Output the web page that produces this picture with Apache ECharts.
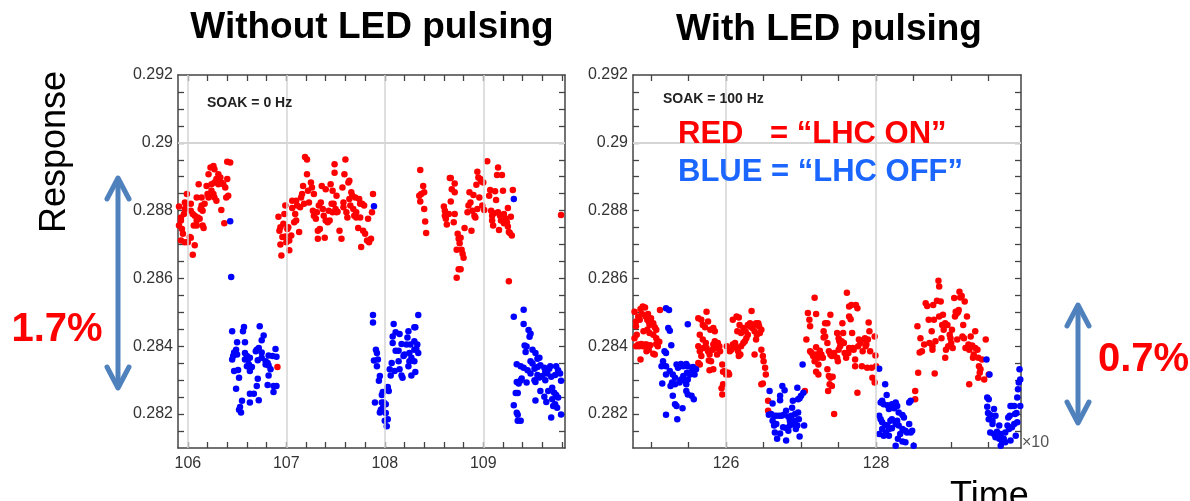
<!DOCTYPE html>
<html>
<head>
<meta charset="utf-8">
<script src="https://cdn.jsdelivr.net/npm/echarts@6/dist/echarts.min.js"></script>
<style>
html,body{margin:0;padding:0;background:#fff}
#main{width:1190px;height:501px}
</style>
</head>
<body>
<div id="main"></div>
<script>
// [time (x10^?), response]
var noPulseRed = [
[105.91,0.28812],[105.93,0.28780],[105.93,0.28771],[105.91,0.28756],[105.94,0.28746],[105.96,0.28790],[105.97,0.28824],[105.98,0.28820],[105.99,0.28849],[105.97,0.28805],[105.95,0.28732],[105.93,0.28712],[105.97,0.28707],[106.00,0.28707],[106.02,0.28722],[106.03,0.28720],[106.07,0.28698],[106.05,0.28670],[106.03,0.28800],[106.03,0.28820],[106.05,0.28790],[106.07,0.28785],[106.09,0.28771],[106.10,0.28780],[106.06,0.28756],[106.09,0.28756],[106.12,0.28776],[106.15,0.28756],[106.16,0.28749],[106.13,0.28805],[106.14,0.28815],[106.15,0.28800],[106.09,0.28839],[106.14,0.28839],[106.11,0.28878],[106.19,0.28873],[106.17,0.28820],[106.21,0.28839],[106.22,0.28844],[106.20,0.28849],[106.24,0.28859],[106.26,0.28849],[106.27,0.28839],[106.29,0.28829],[106.24,0.28878],[106.27,0.28883],[106.21,0.28907],[106.23,0.28927],[106.26,0.28932],[106.27,0.28922],[106.31,0.28907],[106.33,0.28898],[106.29,0.28893],[106.34,0.28883],[106.31,0.28878],[106.36,0.28878],[106.38,0.28868],[106.40,0.28893],[106.39,0.28839],[106.41,0.28844],[106.34,0.28802],[106.37,0.28763],[106.40,0.28944],[106.43,0.28942],[106.91,0.28339],
[106.92,0.28782],[106.93,0.28741],[106.94,0.28751],[106.94,0.28700],[106.95,0.28668],[106.96,0.28722],[106.97,0.28761],[106.98,0.28790],[106.99,0.28815],[106.99,0.28724],[107.00,0.28707],[107.01,0.28746],[107.02,0.28751],[107.03,0.28683],[107.03,0.28712],[107.05,0.28727],[107.06,0.28829],[107.06,0.28808],[107.08,0.28766],[107.09,0.28790],[107.10,0.28771],[107.10,0.28829],[107.11,0.28815],[107.13,0.28737],[107.14,0.28810],[107.15,0.28839],[107.16,0.28849],[107.17,0.28873],[107.18,0.28820],[107.19,0.28958],[107.21,0.28951],[107.21,0.28907],[107.22,0.28859],[107.23,0.28824],[107.25,0.28883],[107.26,0.28868],[107.27,0.28800],[107.28,0.28849],[107.28,0.28785],[107.30,0.28776],[107.31,0.28795],[107.32,0.28741],[107.32,0.28717],[107.33,0.28815],[107.34,0.28746],[107.35,0.28824],[107.36,0.28873],[107.37,0.28805],[107.38,0.28785],[107.39,0.28720],[107.40,0.28771],[107.40,0.28863],[107.42,0.28766],[107.43,0.28800],[107.44,0.28771],[107.45,0.28878],[107.46,0.28820],[107.47,0.28795],[107.47,0.28859],[107.48,0.28820],[107.49,0.28937],[107.49,0.28912],[107.50,0.28805],[107.51,0.28795],[107.51,0.28844],[107.52,0.28797],[107.54,0.28741],[107.56,0.28717],[107.57,0.28868],[107.58,0.28824],[107.58,0.28810],[107.59,0.28907],[107.60,0.28951],[107.61,0.28795],[107.62,0.28780],[107.63,0.28883],[107.64,0.28888],[107.64,0.28834],[107.65,0.28815],[107.66,0.28854],[107.67,0.28844],[107.68,0.28805],[107.69,0.28785],[107.70,0.28839],[107.71,0.28795],[107.71,0.28780],[107.73,0.28749],[107.74,0.28834],[107.75,0.28820],[107.75,0.28780],[107.76,0.28693],[107.77,0.28820],[107.78,0.28741],[107.79,0.28815],[107.80,0.28732],[107.82,0.28712],[107.83,0.28776],[107.84,0.28707],[107.86,0.28717],[107.87,0.28795],[107.88,0.28849],
[108.36,0.28920],[108.39,0.28873],[108.40,0.28854],[108.37,0.28849],[108.35,0.28844],[108.36,0.28827],[108.40,0.28805],[108.41,0.28768],[108.42,0.28734],[108.60,0.28812],[108.61,0.28800],[108.61,0.28785],[108.62,0.28776],[108.63,0.28759],[108.65,0.28790],[108.66,0.28896],[108.67,0.28896],[108.68,0.28863],[108.67,0.28827],[108.70,0.28766],[108.71,0.28880],[108.71,0.28854],[108.71,0.28790],[108.74,0.28732],[108.75,0.28717],[108.76,0.28704],[108.77,0.28720],[108.73,0.28685],[108.78,0.28685],[108.79,0.28673],[108.80,0.28661],[108.81,0.28749],[108.75,0.28627],[108.77,0.28627],[108.73,0.28602],[108.84,0.28795],[108.85,0.28815],[108.86,0.28854],[108.87,0.28824],[108.88,0.28741],[108.89,0.28800],[108.90,0.28846],[108.91,0.28785],[108.92,0.28780],[108.93,0.28876],[108.94,0.28915],[108.94,0.28805],[108.95,0.28898],[108.96,0.28839],[108.97,0.28893],[108.98,0.28886],[108.99,0.28815],[109.00,0.28883],[109.01,0.28802],[109.04,0.28946],[109.06,0.28844],[109.07,0.28861],[109.08,0.28800],[109.09,0.28785],[109.09,0.28771],[109.10,0.28756],[109.11,0.28792],[109.12,0.28857],[109.13,0.28831],[109.14,0.28905],[109.15,0.28927],[109.15,0.28795],[109.16,0.28743],[109.17,0.28785],[109.18,0.28771],[109.19,0.28905],[109.20,0.28859],[109.21,0.28790],[109.21,0.28763],[109.23,0.28776],[109.24,0.28766],[109.25,0.28808],[109.25,0.28753],[109.26,0.28737],[109.27,0.28734],[109.28,0.28782],[109.29,0.28727],[109.30,0.28861],[109.26,0.28592],[109.79,0.28787]
];
var noPulseBlue = [
[106.45,0.28444],[106.57,0.28457],[106.56,0.28444],[106.73,0.28459],[106.77,0.28432],[106.75,0.28418],[106.50,0.28412],[106.58,0.28412],[106.72,0.28395],[106.70,0.28390],[106.69,0.28385],[106.75,0.28382],[106.49,0.28390],[106.47,0.28382],[106.46,0.28371],[106.45,0.28361],[106.50,0.28376],[106.58,0.28380],[106.60,0.28371],[106.61,0.28361],[106.63,0.28366],[106.58,0.28361],[106.62,0.28346],[106.60,0.28341],[106.65,0.28339],[106.63,0.28327],[106.71,0.28359],[106.79,0.28356],[106.81,0.28351],[106.82,0.28373],[106.86,0.28371],[106.89,0.28392],[106.90,0.28369],[106.82,0.28343],[106.84,0.28332],[106.82,0.28314],[106.47,0.28327],[106.51,0.28330],[106.52,0.28307],[106.71,0.28304],[106.70,0.28283],[106.81,0.28286],[106.87,0.28283],[106.90,0.28283],[106.87,0.28265],[106.49,0.28275],[106.63,0.28260],[106.67,0.28260],[106.63,0.28234],[106.72,0.28241],[106.55,0.28239],[106.53,0.28221],[106.52,0.28213],[106.54,0.28205],[106.79,0.28346],[106.75,0.28366],
[106.43,0.28769],[106.44,0.28604],[107.89,0.28813],[109.31,0.28834],
[107.88,0.28492],[107.88,0.28470],[107.91,0.28390],[107.92,0.28380],[107.89,0.28358],[107.93,0.28361],[107.92,0.28341],[107.95,0.28312],[107.94,0.28298],[107.90,0.28234],[107.98,0.28265],[107.97,0.28256],[108.03,0.28275],[108.04,0.28268],[108.03,0.28280],[107.99,0.28234],[108.01,0.28229],[107.98,0.28219],[107.96,0.28213],[107.95,0.28205],[108.01,0.28203],[108.03,0.28185],[108.00,0.28180],[108.02,0.28164],[107.97,0.28234],[108.09,0.28466],[108.11,0.28441],[108.15,0.28436],[108.24,0.28444],[108.23,0.28426],[108.30,0.28456],[108.31,0.28456],[108.34,0.28492],[108.08,0.28429],[108.08,0.28410],[108.17,0.28407],[108.22,0.28405],[108.26,0.28405],[108.30,0.28415],[108.33,0.28405],[108.32,0.28392],[108.30,0.28390],[108.34,0.28380],[108.25,0.28380],[108.20,0.28376],[108.14,0.28387],[108.11,0.28387],[108.19,0.28371],[108.27,0.28366],[108.30,0.28356],[108.14,0.28356],[108.07,0.28351],[108.05,0.28332],[108.10,0.28327],[108.15,0.28332],[108.17,0.28314],[108.18,0.28307],[108.27,0.28314],[108.31,0.28324],[108.06,0.28314],[108.24,0.28341],[108.25,0.28356],
[109.31,0.28487],[109.41,0.28508],[109.41,0.28466],[109.46,0.28448],[109.47,0.28428],[109.48,0.28437],[109.42,0.28402],[109.44,0.28399],[109.43,0.28383],[109.50,0.28390],[109.53,0.28380],[109.57,0.28366],[109.55,0.28363],[109.48,0.28356],[109.50,0.28349],[109.34,0.28347],[109.38,0.28341],[109.41,0.28337],[109.45,0.28329],[109.48,0.28320],[109.52,0.28334],[109.55,0.28339],[109.58,0.28344],[109.62,0.28337],[109.63,0.28325],[109.67,0.28334],[109.68,0.28341],[109.74,0.28341],[109.76,0.28329],[109.78,0.28320],[109.73,0.28315],[109.69,0.28310],[109.65,0.28320],[109.60,0.28312],[109.57,0.28308],[109.52,0.28300],[109.53,0.28295],[109.44,0.28293],[109.38,0.28299],[109.34,0.28295],[109.36,0.28290],[109.39,0.28305],[109.33,0.28262],[109.35,0.28262],[109.58,0.28268],[109.62,0.28251],[109.66,0.28268],[109.70,0.28278],[109.72,0.28263],[109.74,0.28256],[109.76,0.28249],[109.70,0.28244],[109.64,0.28236],[109.53,0.28240],[109.73,0.28229],[109.71,0.28224],[109.75,0.28219],[109.79,0.28199],[109.69,0.28190],[109.31,0.28226],[109.34,0.28204],[109.35,0.28198],[109.35,0.28180],[109.38,0.28180],[109.63,0.28300],[109.55,0.28315],[109.79,0.28298]
];
var pulseRed = [
[124.78,0.28502],[124.80,0.28473],[124.80,0.28459],[124.78,0.28424],[124.81,0.28434],[124.83,0.28488],[124.85,0.28478],[124.86,0.28510],[124.88,0.28495],[124.89,0.28517],[124.92,0.28514],[124.93,0.28488],[124.95,0.28478],[124.96,0.28495],[124.97,0.28473],[124.98,0.28463],[125.00,0.28483],[125.03,0.28468],[125.05,0.28456],[125.07,0.28449],[124.98,0.28439],[124.87,0.28407],[124.84,0.28400],[124.89,0.28400],[124.92,0.28405],[124.94,0.28405],[124.96,0.28400],[124.97,0.28390],[124.94,0.28385],[124.99,0.28403],[125.03,0.28378],[125.05,0.28376],[125.07,0.28407],[125.09,0.28400],[125.11,0.28413],[125.12,0.28507],[124.86,0.28361],[124.83,0.28405],[124.80,0.28400],[124.95,0.28449],[124.90,0.28444],[125.03,0.28434],[125.07,0.28424],
[125.63,0.28483],[125.67,0.28478],[125.69,0.28463],[125.72,0.28456],[125.74,0.28502],[125.76,0.28473],[125.79,0.28449],[125.83,0.28454],[125.85,0.28444],[125.65,0.28434],[125.69,0.28420],[125.73,0.28410],[125.63,0.28400],[125.65,0.28385],[125.67,0.28371],[125.63,0.28351],[125.65,0.28346],[125.70,0.28395],[125.74,0.28395],[125.76,0.28385],[125.78,0.28376],[125.77,0.28358],[125.80,0.28356],[125.82,0.28390],[125.83,0.28405],[125.85,0.28415],[125.87,0.28395],[125.88,0.28376],[125.89,0.28410],[125.91,0.28400],[125.92,0.28385],[125.83,0.28332],[125.78,0.28329],[125.95,0.28346],[125.96,0.28325],[125.98,0.28327],[126.00,0.28317],[126.03,0.28322],[126.04,0.28317],[126.01,0.28400],[126.05,0.28385],[125.96,0.28288],[125.94,0.28276],[125.95,0.28258],[126.07,0.28390],[126.09,0.28405],[126.12,0.28410],[126.14,0.28395],[126.16,0.28385],[126.17,0.28371],[126.19,0.28376],[126.20,0.28400],[126.23,0.28410],[126.25,0.28415],[126.27,0.28424],[126.29,0.28434],[126.09,0.28478],[126.14,0.28488],[126.17,0.28485],[126.18,0.28463],[126.20,0.28439],[126.23,0.28454],[126.15,0.28444],[126.26,0.28444],[126.29,0.28463],[126.32,0.28459],[126.34,0.28504],[126.32,0.28468],[126.35,0.28454],[126.37,0.28463],[126.38,0.28444],[126.40,0.28468],[126.43,0.28468],[126.44,0.28459],[126.41,0.28434],[126.45,0.28439],[126.40,0.28420],[126.47,0.28449],[126.38,0.28376],[126.47,0.28390],[126.49,0.28371],[126.50,0.28356],[126.52,0.28337],[126.53,0.28317],[126.47,0.28288],[126.49,0.28290],[126.56,0.28239],[126.56,0.28210],[127.05,0.28268],
[127.09,0.28498],[127.20,0.28495],[127.11,0.28478],[127.12,0.28459],[127.32,0.28468],[127.30,0.28444],[127.30,0.28426],[127.07,0.28420],[127.20,0.28397],[127.12,0.28385],[127.14,0.28380],[127.16,0.28371],[127.20,0.28376],[127.23,0.28366],[127.25,0.28387],[127.27,0.28376],[127.29,0.28366],[127.18,0.28356],[127.23,0.28346],[127.20,0.28325],[127.23,0.28317],[127.18,0.28543],
[127.35,0.28468],[127.39,0.28493],[127.32,0.28429],[127.35,0.28410],[127.37,0.28385],[127.39,0.28376],[127.41,0.28371],[127.44,0.28380],[127.35,0.28332],[127.37,0.28312],[127.39,0.28307],[127.42,0.28310],[127.38,0.28288],[127.41,0.28283],[127.36,0.28268],[127.44,0.28200],[127.48,0.28439],[127.50,0.28424],[127.51,0.28415],[127.52,0.28400],[127.50,0.28390],[127.48,0.28366],[127.49,0.28356],[127.55,0.28468],[127.56,0.28439],[127.57,0.28410],[127.58,0.28380],[127.60,0.28366],[127.54,0.28415],[127.61,0.28558],[127.64,0.28517],[127.64,0.28488],[127.66,0.28480],[127.67,0.28522],[127.63,0.28380],[127.64,0.28395],[127.68,0.28439],[127.69,0.28395],[127.70,0.28390],[127.72,0.28341],[127.72,0.28361],[127.73,0.28522],[127.75,0.28512],[127.76,0.28400],[127.77,0.28420],[127.79,0.28410],[127.81,0.28341],[127.82,0.28385],[127.84,0.28420],[127.85,0.28424],[127.86,0.28400],[127.87,0.28405],[127.88,0.28337],[127.89,0.28420],[127.90,0.28470],[127.91,0.28444],[127.92,0.28385],[127.94,0.28337],[127.95,0.28307],[127.98,0.28293],[127.98,0.28429],[127.99,0.28373],[128.00,0.28341],[127.75,0.28263],
[128.55,0.28459],[128.52,0.28268],[128.52,0.28244],[128.56,0.28322],[128.58,0.28382],[128.61,0.28385],[128.59,0.28424],[128.64,0.28405],[128.66,0.28527],[128.68,0.28519],[128.70,0.28478],[128.71,0.28410],[128.74,0.28444],[128.75,0.28400],[128.76,0.28522],[128.77,0.28478],[128.75,0.28390],[128.79,0.28415],[128.78,0.28320],[128.81,0.28534],[128.83,0.28593],[128.84,0.28576],[128.84,0.28488],[128.86,0.28532],[128.87,0.28424],[128.88,0.28463],[128.89,0.28493],[128.90,0.28449],[128.92,0.28366],[128.92,0.28468],[128.93,0.28390],[128.95,0.28463],[128.96,0.28400],[128.98,0.28434],[128.99,0.28424],[129.00,0.28410],[129.01,0.28449],[129.02,0.28395],[129.04,0.28542],[129.05,0.28488],[129.06,0.28502],[129.07,0.28496],[129.08,0.28420],[129.09,0.28500],[129.10,0.28507],[129.11,0.28561],[129.12,0.28544],[129.14,0.28548],[129.15,0.28429],[129.16,0.28463],[129.17,0.28424],[129.18,0.28532],[129.19,0.28395],[129.21,0.28488],[129.23,0.28405],[129.24,0.28390],[129.24,0.28288],[129.26,0.28429],[129.28,0.28402],[129.29,0.28366],[129.30,0.28376],[129.32,0.28444],[129.32,0.28395],[129.35,0.28390],[129.36,0.28366],[129.37,0.28341],[129.38,0.28322],[129.39,0.28332],[129.36,0.28307],[129.41,0.28361],[129.44,0.28302],[129.46,0.28420],[129.50,0.28317]
];
var pulseBlue = [
[125.20,0.28512],[125.24,0.28507],[125.23,0.28454],[125.25,0.28446],[125.49,0.28465],[125.27,0.28403],[125.18,0.28385],[125.20,0.28380],[125.16,0.28356],[125.14,0.28341],[125.20,0.28341],[125.20,0.28317],[125.15,0.28290],[125.25,0.28327],[125.29,0.28317],[125.32,0.28307],[125.28,0.28293],[125.26,0.28283],[125.32,0.28288],[125.34,0.28346],[125.36,0.28337],[125.38,0.28341],[125.40,0.28348],[125.43,0.28341],[125.47,0.28348],[125.49,0.28341],[125.48,0.28322],[125.43,0.28312],[125.40,0.28302],[125.38,0.28293],[125.45,0.28298],[125.47,0.28288],[125.49,0.28302],[125.52,0.28317],[125.54,0.28325],[125.56,0.28339],[125.60,0.28332],[125.58,0.28317],[125.47,0.28268],[125.49,0.28258],[125.54,0.28254],[125.57,0.28244],[125.29,0.28254],[125.32,0.28229],[125.34,0.28224],[125.42,0.28217],[125.20,0.28198],[125.35,0.28185],
[126.58,0.28268],[126.62,0.28231],[126.57,0.28198],[126.60,0.28200],[126.64,0.28195],[126.67,0.28195],[126.71,0.28195],[126.74,0.28195],[126.77,0.28198],[126.75,0.28283],[126.78,0.28270],[126.72,0.28254],[126.72,0.28241],[126.80,0.28210],[126.83,0.28192],[126.85,0.28180],[126.87,0.28195],[126.88,0.28219],[126.89,0.28239],[126.95,0.28278],[126.96,0.28244],[126.98,0.28247],[127.00,0.28254],[127.03,0.28263],[127.02,0.28346],[126.62,0.28180],[126.64,0.28166],[126.67,0.28171],[126.65,0.28146],[126.68,0.28127],[126.72,0.28143],[126.76,0.28161],[126.80,0.28159],[126.80,0.28122],[126.83,0.28151],[126.85,0.28166],[126.89,0.28171],[126.92,0.28180],[126.93,0.28156],[126.95,0.28166],[126.97,0.28185],[126.98,0.28134],[127.04,0.28166],[126.96,0.28205],[126.92,0.28200],
[128.04,0.28334],[128.12,0.28288],[128.14,0.28256],[128.08,0.28239],[128.10,0.28229],[128.06,0.28234],[128.15,0.28226],[128.21,0.28229],[128.26,0.28234],[128.28,0.28224],[128.24,0.28217],[128.17,0.28215],[128.30,0.28205],[128.35,0.28197],[128.37,0.28190],[128.04,0.28195],[128.06,0.28185],[128.08,0.28176],[128.12,0.28168],[128.15,0.28166],[128.17,0.28156],[128.21,0.28158],[128.13,0.28146],[128.17,0.28136],[128.10,0.28136],[128.04,0.28141],[128.26,0.28171],[128.28,0.28180],[128.30,0.28166],[128.35,0.28156],[128.32,0.28141],[128.39,0.28151],[128.44,0.28171],[128.41,0.28146],[128.46,0.28146],[128.48,0.28151],[128.44,0.28234],[128.46,0.28239],[128.39,0.28117],[128.35,0.28119],[128.29,0.28127],[128.26,0.28107],[128.50,0.28107],[128.08,0.28156],[128.19,0.28180],[128.21,0.28185],
[129.47,0.28361],[129.51,0.28317],[129.48,0.28249],[129.50,0.28244],[129.48,0.28222],[129.49,0.28203],[129.52,0.28197],[129.50,0.28185],[129.55,0.28180],[129.57,0.28215],[129.59,0.28195],[129.55,0.28171],[129.52,0.28146],[129.57,0.28141],[129.59,0.28132],[129.61,0.28148],[129.64,0.28166],[129.66,0.28141],[129.64,0.28127],[129.68,0.28117],[129.70,0.28127],[129.72,0.28146],[129.75,0.28166],[129.76,0.28190],[129.78,0.28195],[129.79,0.28224],[129.81,0.28224],[129.84,0.28224],[129.85,0.28200],[129.87,0.28203],[129.88,0.28249],[129.89,0.28273],[129.90,0.28293],[129.91,0.28332],[129.92,0.28302],[129.92,0.28224],[129.88,0.28176],[129.81,0.28161],[129.77,0.28156],[129.84,0.28171],[129.86,0.28136],[129.79,0.28122],[129.72,0.28117],[129.66,0.28107]
];

var leftTimeLabels = [106, 107, 108, 109];
var leftTimeTicks = [106,106.2,106.4,106.6,106.8,107,107.2,107.4,107.6,107.8,108,108.2,108.4,108.6,108.8,109,109.2,109.4,109.6,109.8];
var rightTimeLabels = [126, 128];
var rightTimeTicks = [125,125.5,126,126.5,127,127.5,128,128.5,129,129.5];
var responseLabels = [0.282, 0.284, 0.286, 0.288, 0.29, 0.292];
var responseTicks = [0.2815,0.282,0.2825,0.283,0.2835,0.284,0.2845,0.285,0.2855,0.286,0.2865,0.287,0.2875,0.288,0.2885,0.289,0.2895,0.29,0.2905,0.291,0.2915];
var gridResponse = [0.282, 0.284, 0.286, 0.288, 0.29];

var FONT = '"Liberation Sans", Arial, sans-serif';
var AXIS_C = '#444';

function timeAxis(g, pos, min, max, ticks, labels) {
	return {
		type: 'value', gridIndex: g, position: pos, min: min, max: max,
		axisLine: {show: true, onZero: false, lineStyle: {color: AXIS_C, width: 1.5}},
		axisTick: {show: true, inside: true, length: 6, customValues: ticks, lineStyle: {color: AXIS_C, width: 1.3}},
		axisLabel: labels ? {customValues: labels, fontSize: 16, color: '#333', margin: 8, fontFamily: FONT} : {show: false},
		splitLine: {show: false}
	};
}
function respAxis(g, pos, labels) {
	return {
		type: 'value', gridIndex: g, position: pos, min: 0.281, max: 0.292,
		axisLine: {show: true, onZero: false, lineStyle: {color: AXIS_C, width: 1.5}},
		axisTick: {show: true, inside: true, length: 6, customValues: responseTicks, lineStyle: {color: AXIS_C, width: 1.3}},
		axisLabel: labels ? {customValues: labels, fontSize: 16, color: '#333', margin: 5, fontFamily: FONT} : {show: false},
		splitLine: {show: false}
	};
}
function gridLines(ax, times) {
	var d = [];
	times.forEach(function(t){ d.push({xAxis: t}); });
	gridResponse.forEach(function(r){ d.push({yAxis: r}); });
	return {
		type: 'scatter', xAxisIndex: ax, yAxisIndex: ax, data: [], z: 1, silent: true,
		markLine: {silent: true, symbol: 'none', animation: false, label: {show: false},
			lineStyle: {color: '#d4d4d4', width: 1.5, type: 'solid'}, data: d}
	};
}
function dots(ax, data, color) {
	return {type: 'scatter', xAxisIndex: ax, yAxisIndex: ax, data: data, z: 3,
		symbolSize: 6.5, itemStyle: {color: color, opacity: 1}};
}
function arrow(x, y1, y2) {
	var st = {stroke: '#4f81bd', lineWidth: 5, lineCap: 'round', lineJoin: 'round', fill: null};
	return [
		{type: 'line', shape: {x1: x, y1: y1 + 2, x2: x, y2: y2 - 2}, style: st},
		{type: 'polyline', shape: {points: [[x - 11, y1 + 21], [x, y1], [x + 11, y1 + 21]]}, style: st},
		{type: 'polyline', shape: {points: [[x - 11, y2 - 21], [x, y2], [x + 11, y2 - 21]]}, style: st}
	];
}
function txt(s, x, y, size, weight, color, align, extra) {
	var o = {type: 'text', x: x, y: y, z: 10,
		style: {text: s, fontSize: size, fontWeight: weight, fontFamily: FONT, fill: color,
			align: align || 'left', verticalAlign: 'middle'}};
	if (extra) for (var k in extra) o[k] = extra[k];
	return o;
}

var myChart = echarts.init(document.getElementById('main'));
var option = {
	animation: false,
	backgroundColor: '#fff',
	grid: [
		{left: 178, top: 75, width: 387, height: 373, outerBoundsMode: 'none'},
		{left: 633, top: 75, width: 388, height: 373, outerBoundsMode: 'none'}
	],
	xAxis: [
		timeAxis(0, 'bottom', 105.9, 109.83, leftTimeTicks, leftTimeLabels),
		timeAxis(1, 'bottom', 124.76, 129.93, rightTimeTicks, rightTimeLabels),
		timeAxis(0, 'top', 105.9, 109.83, leftTimeTicks, null),
		timeAxis(1, 'top', 124.76, 129.93, rightTimeTicks, null)
	],
	yAxis: [
		respAxis(0, 'left', responseLabels),
		respAxis(1, 'left', responseLabels),
		respAxis(0, 'right', null),
		respAxis(1, 'right', null)
	],
	series: [
		gridLines(0, [106, 107, 108, 109]),
		gridLines(1, [126, 128]),
		dots(0, noPulseRed, '#ff0000'),
		dots(0, noPulseBlue, '#0000ff'),
		dots(1, pulseRed, '#ff0000'),
		dots(1, pulseBlue, '#0000ff')
	],
	graphic: [].concat(
		arrow(118, 178, 388),
		arrow(1078, 305, 423),
		[
			txt('Without LED pulsing', 372, 28, 37, 'bold', '#000', 'center'),
			txt('With LED pulsing', 829, 30, 37, 'bold', '#000', 'center'),
			txt('Response', 55, 152, 36, 'normal', '#000', 'center', {rotation: Math.PI / 2}),
			txt('1.7%', 57, 330, 40, 'bold', '#ff0000', 'center'),
			txt('0.7%', 1098, 360, 40, 'bold', '#ff0000', 'left'),
			txt('SOAK = 0 Hz', 207, 103, 14, 'bold', '#222', 'left'),
			txt('SOAK = 100 Hz', 663, 99, 14, 'bold', '#222', 'left'),
			txt('RED', 678, 134, 31, 'bold', '#ff0000', 'left'),
			txt('= \u201cLHC ON\u201d', 770, 134, 31, 'bold', '#ff0000', 'left'),
			txt('BLUE = \u201cLHC OFF\u201d', 678, 172, 31, 'bold', '#1a66ff', 'left'),
			txt('\u00d710', 1022, 443, 16, 'normal', '#555', 'left'),
			txt('Time', 950, 497, 36, 'normal', '#000', 'left')
		]
	)
};
myChart.setOption(option);
</script>
</body>
</html>
